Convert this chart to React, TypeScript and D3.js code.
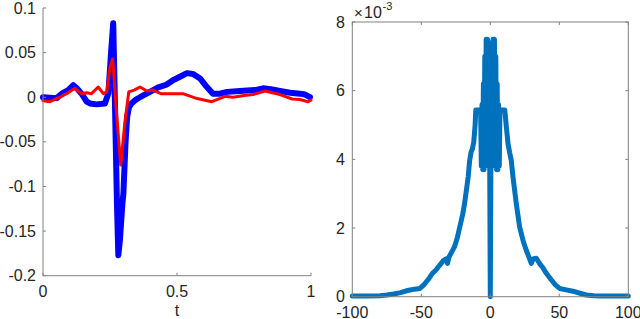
import React from 'react';
import * as d3 from 'd3';

// Left panel: time signals
const blueT = [0, 0.051, 0.07, 0.094, 0.113, 0.126, 0.144, 0.163, 0.175, 0.2, 0.231, 0.244, 0.254, 0.262, 0.268, 0.276, 0.281, 0.287, 0.296, 0.3, 0.308, 0.314, 0.321, 0.33, 0.345, 0.362, 0.399, 0.43, 0.46, 0.485, 0.511, 0.537, 0.56, 0.586, 0.61, 0.634, 0.66, 0.687, 0.735, 0.791, 0.821, 0.85, 0.884, 0.922, 0.959, 0.978, 0.996];
const blueV = [0, -0.001, 0.004, 0.008, 0.0135, 0.01, 0.004, -0.005, -0.007, -0.008, -0.007, 0.0045, 0.05, 0.083, 0.0, -0.12, -0.177, -0.16, -0.12, -0.108, -0.05, -0.022, -0.011, -0.007, -0.003, 0.0, 0.006, 0.011, 0.014, 0.019, 0.023, 0.027, 0.026, 0.021, 0.012, 0.004, 0.004, 0.006, 0.007, 0.008, 0.010, 0.009, 0.007, 0.005, 0.004, 0.003, 0.0];

const redT = [0, 0.026, 0.063, 0.088, 0.119, 0.144, 0.163, 0.181, 0.206, 0.225, 0.238, 0.25, 0.26, 0.275, 0.29, 0.305, 0.32, 0.34, 0.362, 0.388, 0.41, 0.44, 0.463, 0.522, 0.575, 0.63, 0.68, 0.709, 0.75, 0.784, 0.828, 0.884, 0.93, 0.959, 0.989, 1.0];
const redV = [-0.004, -0.005, 0.0, 0.004, 0.01, 0.004, 0.005, 0.004, 0.0115, 0.004, 0.006, 0.034, 0.043, -0.02, -0.076, -0.03, 0.006, 0.008, 0.0115, 0.007, 0.008, 0.004, 0.004, 0.004, -0.0015, -0.005, 0.001, 0.0, 0.002, 0.003, 0.007, 0.003, -0.002, -0.0026, -0.005, -0.003];

// Right panel: spectrum (values in 1e-3)
const specX = [-100, -90, -80, -75, -70, -65, -60, -55, -51, -48, -45, -42, -40, -37, -34, -32, -31, -30, -28, -26, -24, -22, -20, -18.5, -17, -16, -15, -14, -13, -12, -11, -10.5, -8, -7,
  -6.5, -6, -5.5, -5, -4.5, -4, -3.5, -3, -2.5, -2, -1.5, -1, -0.5, 0, 0.5, 1, 1.5, 2, 2.5, 3, 3.5, 4, 4.5, 5, 5.5, 6, 6.5,
  7, 8, 10.5, 11.5, 12.8, 14, 15.2, 16.4, 18.8, 21.2, 24, 26, 28, 29.7, 31, 33.3, 36, 38, 40.6, 44, 47, 50.2, 55, 59.9, 65, 69.6, 75, 80, 90, 100];
const specY = [0.02, 0.02, 0.03, 0.05, 0.08, 0.12, 0.18, 0.22, 0.24, 0.35, 0.5, 0.68, 0.75, 0.9, 1.05, 1.1, 0.97, 1.15, 1.3, 1.45, 1.7, 2.05, 2.4, 2.75, 3.2, 3.5, 3.95, 4.2, 4.3, 4.5, 5.0, 5.44, 5.44, 5.4,
  3.8, 5.6, 3.7, 6.2, 3.7, 7.0, 3.8, 7.5, 3.9, 7.5, 4.0, 7.4, 4.5, 0, 4.5, 7.4, 4.0, 7.5, 3.9, 7.5, 3.8, 7.0, 3.7, 6.2, 3.7, 5.6, 3.8,
  5.4, 5.44, 5.44, 5.0, 4.47, 4.2, 3.97, 3.5, 2.72, 2.04, 1.6, 1.36, 1.15, 0.97, 1.1, 1.12, 0.95, 0.85, 0.68, 0.5, 0.35, 0.24, 0.2, 0.16, 0.1, 0.05, 0.03, 0.02, 0.02, 0.02];

const leftXTicks = [0, 0.5, 1];
const leftYTicks = [0.1, 0.05, 0, -0.05, -0.1, -0.15, -0.2];
const rightXTicks = [-100, -50, 0, 50, 100];
const rightYTicks = [0, 2, 4, 6, 8];

const FONT = "'Liberation Sans', Arial, Helvetica, sans-serif";
const AX = '#808080';
const TXT = '#262626';
const TL = 3;
const FS = 16;

export default function App() {
  const lx = d3.scaleLinear().domain([0, 1]).range([43, 311]);
  const ly = d3.scaleLinear().domain([-0.2, 0.1]).range([275.7, 8]);
  const rx = d3.scaleLinear().domain([-100, 100]).range([352.3, 628.3]);
  const ry = d3.scaleLinear().domain([0, 8]).range([296.7, 22]);

  const blueLine = d3.line<number>().x((_, i) => lx(blueT[i])).y((d) => ly(d))(blueV) || '';
  const redLine = d3.line<number>().x((_, i) => lx(redT[i])).y((d) => ly(d))(redV) || '';
  const specLine = d3.line<number>().x((_, i) => rx(specX[i])).y((d) => ry(d))(specY) || '';

  const fmtL = (v: number) => (v === 0 ? '0' : String(v));

  return (
    <svg width={640} height={319} style={{ position: 'absolute', left: 0, top: 0, background: '#fff' }} fontFamily={FONT}>
      <rect x={0} y={0} width={640} height={319} fill="#fff" />
      {/* Left panel data */}
      <path d={blueLine} fill="none" stroke="#0000ff" strokeWidth={6} strokeLinejoin="round" strokeLinecap="round" />
      <path d={redLine} fill="none" stroke="#ff0000" strokeWidth={3} strokeLinejoin="round" strokeLinecap="round" />
      {/* Left axes */}
      <line x1={43} x2={43} y1={8} y2={275.7} stroke={AX} strokeWidth={1} />
      <line x1={43} x2={311} y1={275.7} y2={275.7} stroke={AX} strokeWidth={1} />
      {leftYTicks.map((t) => (
        <g key={'ly' + t}>
          <line x1={43} x2={43 + TL} y1={ly(t)} y2={ly(t)} stroke={AX} />
          <text x={36} y={ly(t)} dy="0.35em" textAnchor="end" fontSize={FS} fill={TXT}>{fmtL(t)}</text>
        </g>
      ))}
      {leftXTicks.map((t) => (
        <g key={'lx' + t}>
          <line x1={lx(t)} x2={lx(t)} y1={275.7} y2={275.7 - TL} stroke={AX} />
          <text x={lx(t)} y={296.7} textAnchor="middle" fontSize={FS} fill={TXT}>{fmtL(t)}</text>
        </g>
      ))}
      <text x={177} y={315.5} textAnchor="middle" fontSize={FS} fill={TXT}>t</text>

      {/* Right panel data */}
      <path d={specLine} fill="none" stroke="#0072bd" strokeWidth={5} strokeLinejoin="round" strokeLinecap="round" />
      {/* Right axes box */}
      <rect x={352.3} y={22} width={276} height={274.7} fill="none" stroke={AX} strokeWidth={1} />
      {rightYTicks.map((t) => (
        <g key={'ry' + t}>
          <line x1={352.3} x2={352.3 + TL} y1={ry(t)} y2={ry(t)} stroke={AX} />
          <line x1={628.3} x2={628.3 - TL} y1={ry(t)} y2={ry(t)} stroke={AX} />
          <text x={345} y={ry(t)} dy="0.35em" textAnchor="end" fontSize={FS} fill={TXT}>{t}</text>
        </g>
      ))}
      {rightXTicks.map((t) => (
        <g key={'rx' + t}>
          <line x1={rx(t)} x2={rx(t)} y1={296.7} y2={296.7 - TL} stroke={AX} />
          <line x1={rx(t)} x2={rx(t)} y1={22} y2={22 + TL} stroke={AX} />
          <text x={rx(t)} y={317.5} textAnchor="middle" fontSize={FS} fill={TXT}>{t}</text>
        </g>
      ))}
      <text x={354} y={18} fontSize={15} fill={TXT}>×</text>
      <text x={364} y={18} fontSize={FS} fill={TXT}>10</text>
      <text x={382.5} y={10} fontSize={11} fill={TXT}>-3</text>
    </svg>
  );
}
